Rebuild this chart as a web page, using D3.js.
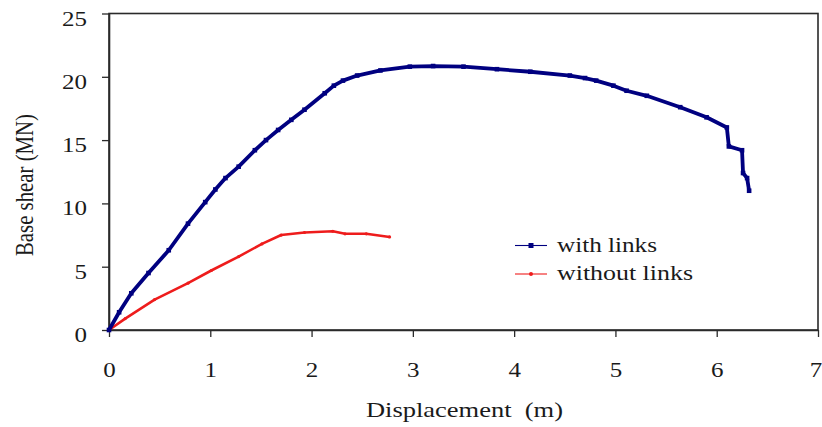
<!DOCTYPE html>
<html>
<head>
<meta charset="utf-8">
<script src="https://cdn.jsdelivr.net/npm/d3@7"></script>
<style>
  html, body { margin: 0; padding: 0; background: #fff; }
  svg { display: block; }
  text { font-family: "Liberation Serif", "Times New Roman", serif; fill: #1a1a1a; }
</style>
</head>
<body>
<svg id="chart" width="822" height="427"></svg>
<script>
// Displacement (m) / Base shear (MN)
const withLinksX = [0, 0.1, 0.22, 0.39, 0.59, 0.78, 0.95, 1.05, 1.15, 1.28, 1.44, 1.55, 1.67, 1.8, 1.93, 2.13, 2.22, 2.31, 2.45, 2.68, 2.97, 3.2, 3.5, 3.83, 4.16, 4.55, 4.7, 4.81, 4.98, 5.11, 5.31, 5.64, 5.9, 6.1, 6.12, 6.25, 6.26, 6.3, 6.32];
const withLinksY = [0, 1.4, 2.9, 4.5, 6.3, 8.4, 10.1, 11.1, 12.0, 12.9, 14.2, 15.0, 15.8, 16.6, 17.4, 18.7, 19.3, 19.7, 20.1, 20.5, 20.8, 20.85, 20.8, 20.6, 20.4, 20.1, 19.9, 19.7, 19.3, 18.9, 18.5, 17.6, 16.8, 16.0, 14.5, 14.2, 12.4, 12.0, 11.0];
const withoutLinksX = [0, 0.16, 0.45, 0.78, 1.01, 1.28, 1.51, 1.7, 1.93, 2.21, 2.33, 2.54, 2.77];
const withoutLinksY = [0, 0.9, 2.4, 3.7, 4.7, 5.8, 6.8, 7.5, 7.7, 7.8, 7.6, 7.6, 7.35];
const xTicks = [0, 1, 2, 3, 4, 5, 6, 7];
const yTicks = [0, 5, 10, 15, 20, 25];
const seriesNames = ["with links", "without links"];
const seriesColors = ["#000080", "#ee1c1c"];

const svg = d3.select("#chart");
const x = d3.scaleLinear().domain([0, 7]).range([109, 818]);
const y = d3.scaleLinear().domain([0, 25]).range([330, 13.5]);
const SX = 1.25;

// frame
svg.append("rect")
  .attr("x", x(0)).attr("y", y(25))
  .attr("width", x(7) - x(0)).attr("height", y(0) - y(25))
  .attr("fill", "none").attr("stroke", "#2a2a2a").attr("stroke-width", 1.6);

// axes
const gx = svg.append("g").attr("transform", `translate(0,${y(0)})`)
  .call(d3.axisBottom(x).tickValues(xTicks).tickSize(7).tickSizeOuter(0).tickFormat(d3.format("d")));
const gy = svg.append("g").attr("transform", `translate(${x(0)},0)`)
  .call(d3.axisLeft(y).tickValues(yTicks).tickSize(7).tickSizeOuter(0).tickFormat(d3.format("d")));
[gx, gy].forEach(g => {
  g.attr("font-family", null);
  g.select(".domain").attr("stroke", "#2a2a2a").attr("stroke-width", 1.6);
  g.selectAll(".tick line").attr("stroke", "#2a2a2a").attr("stroke-width", 1.3);
  g.selectAll(".tick text").attr("font-size", 20).attr("fill", "#1a1a1a")
    .style("font-family", '"Liberation Serif", "Times New Roman", serif');
});
gx.selectAll(".tick text").attr("y", 47).attr("dy", 0)
  .attr("x", d => d === 7 ? -2 : 0)
  .attr("transform", `scale(${SX},1)`);
gy.selectAll(".tick text").attr("x", -22 / SX).attr("dy", 0).attr("y", 11.5).attr("transform", `scale(${SX},1)`);

// axis titles
svg.append("text")
  .attr("x", 464.5).attr("y", 417).attr("text-anchor", "middle")
  .attr("font-size", 21)
  .attr("textLength", 197).attr("lengthAdjust", "spacingAndGlyphs")
  .attr("xml:space", "preserve")
  .text("Displacement  (m)");
svg.append("text")
  .attr("transform", `translate(33,185) scale(${SX},1) rotate(-90)`)
  .attr("text-anchor", "middle").attr("font-size", 20.5)
  .attr("textLength", 142).attr("lengthAdjust", "spacingAndGlyphs")
  .text("Base shear (MN)");

// series
const line = d3.line().x(d => x(d[0])).y(d => y(d[1]));
const blue = withLinksX.map((v, i) => [v, withLinksY[i]]);
const red = withoutLinksX.map((v, i) => [v, withoutLinksY[i]]);

svg.append("path").datum(red)
  .attr("d", line).attr("fill", "none")
  .attr("stroke", seriesColors[1]).attr("stroke-width", 2.6).attr("stroke-linejoin", "round");
svg.append("g").selectAll("circle").data(red).join("circle")
  .attr("cx", d => x(d[0])).attr("cy", d => y(d[1])).attr("r", 1.6).attr("fill", seriesColors[1]);

svg.append("path").datum(blue)
  .attr("d", line).attr("fill", "none")
  .attr("stroke", seriesColors[0]).attr("stroke-width", 3.8).attr("stroke-linejoin", "round");
svg.append("g").selectAll("rect").data(blue).join("rect")
  .attr("x", d => x(d[0]) - 2.3).attr("y", d => y(d[1]) - 2.3)
  .attr("width", 4.6).attr("height", 4.6).attr("fill", seriesColors[0]);

// legend
const legendY = [245.5, 274];
const lg = svg.append("g");
seriesNames.forEach((name, i) => {
  const ly = legendY[i];
  lg.append("line").attr("x1", 515).attr("x2", 547).attr("y1", ly).attr("y2", ly)
    .attr("stroke", seriesColors[i]).attr("stroke-width", 1.1);
  if (i === 0) {
    lg.append("rect").attr("x", 528.5).attr("y", ly - 2.5).attr("width", 5).attr("height", 5).attr("fill", seriesColors[i]);
  } else {
    lg.append("circle").attr("cx", 531).attr("cy", ly).attr("r", 2).attr("fill", seriesColors[i]);
  }
  lg.append("text").attr("x", 557).attr("y", ly + 6)
    .attr("font-size", 20.5)
    .attr("textLength", i === 0 ? 100 : 136).attr("lengthAdjust", "spacingAndGlyphs")
    .text(name);
});
</script>
</body>
</html>
